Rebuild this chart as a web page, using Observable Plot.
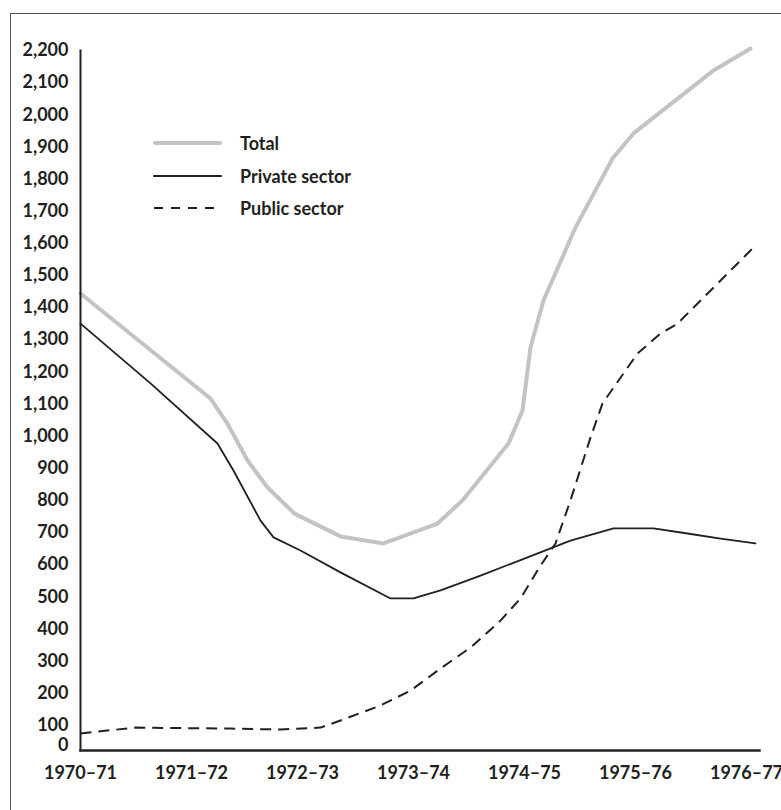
<!DOCTYPE html>
<html>
<head>
<meta charset="utf-8">
<script src="https://cdn.jsdelivr.net/npm/d3@7"></script>
<script src="https://cdn.jsdelivr.net/npm/@observablehq/plot@0.6"></script>
<style>
html,body{margin:0;padding:0;overflow:hidden;background:#fff;width:781px;height:810px}
#wrap{position:relative;width:781px;height:810px;overflow:hidden}
#border{position:absolute;left:10px;top:13px;width:800px;height:830px;border:1.5px solid #555;box-sizing:border-box;pointer-events:none}
#chart{position:absolute;left:0;top:0}
#legend{position:absolute;left:153px;top:127px;font-family:Lato,"Open Sans",sans-serif;font-weight:bold;font-size:18px;color:#231f20}
#legend .row{display:flex;align-items:center;height:32.5px}
#legend svg{margin-right:18px;display:block}
</style>
</head>
<body>
<div id="wrap">
  <div id="chart"></div>
  <div id="legend"></div>
  <div id="border"></div>
</div>
<script>
// Period labels (x = 0 is 1970–71, 1 is 1971–72, ...)
const periods = ["1970–71","1971–72","1972–73","1973–74","1974–75","1975–76","1976–77"];
const yTicks = [100,200,300,400,500,600,700,800,900,1000,1100,1200,1300,1400,1500,1600,1700,1800,1900,2000,2100,2200];

// Total
const totalX = [0,1.171,1.324,1.505,1.685,1.928,2.342,2.73,3.216,3.441,3.856,3.982,4.054,4.171,4.459,4.793,4.982,5.703,6.036];
const totalY = [1444,1117,1039,924,840,759,688,666,728,800,977,1080,1276,1422,1649,1864,1942,2138,2206];

// Private sector
const privateX = [0,0.631,1.234,1.378,1.622,1.739,1.982,2.342,2.793,3.0,3.243,3.604,4.414,4.802,5.162,5.468,5.766,6.081];
const privateY = [1350,1164,977,893,737,685,644,576,495,495,520,566,675,713,713,697,681,666];

// Public sector
const publicX = [0,0.495,1.351,1.802,2.162,2.342,2.703,2.973,3.243,3.514,3.784,3.964,4.144,4.279,4.414,4.595,4.703,4.802,4.892,5.018,5.225,5.378,5.586,6.063];
const publicY = [75,93,90,87,93,115,162,208,277,342,426,495,597,666,800,996,1102,1151,1195,1257,1319,1350,1422,1587];

const series = [
  {name:"Total", xs: totalX, ys: totalY, stroke:"#c3c3c3", width:4, dash:null},
  {name:"Private sector", xs: privateX, ys: privateY, stroke:"#231f20", width:1.8, dash:null},
  {name:"Public sector", xs: publicX, ys: publicY, stroke:"#231f20", width:2, dash:"11,7"}
];

const toRows = s => s.xs.map((x,i) => ({x, y: s.ys[i]}));

const font = 'Lato, "Open Sans", sans-serif';
const plot = Plot.plot({
  width: 781,
  height: 810,
  marginLeft: 80,
  marginRight: 22,
  marginTop: 50,
  marginBottom: 60,
  style: {fontFamily: font, fontSize: "18px", fontWeight: "bold", color: "#231f20", background: "transparent"},
  x: {domain: [0, 6], range: [80, 746]},
  y: {domain: [0, 2200], range: [757, 50]},
  marks: [
    ...series.map(s => Plot.line(toRows(s), {x:"x", y:"y", stroke: s.stroke, strokeWidth: s.width, strokeDasharray: s.dash, strokeLinejoin:"round", strokeLinecap: s.dash ? "butt" : "round"})),
    Plot.frame({anchor:"left", stroke:"#231f20", strokeWidth:2}),
    Plot.frame({anchor:"bottom", stroke:"#231f20", strokeWidth:2.5}),
    Plot.axisY({ticks: yTicks, tickSize: 0, tickPadding: 12, tickFormat: d3.format(","), label: null, fontWeight:"bold"}),
    Plot.text(["0"], {frameAnchor:"bottom-left", dx:-12, textAnchor:"end", fontWeight:"bold", fill:"#231f20"}),
    Plot.axisX({ticks: d3.range(periods.length), tickSize: 0, tickPadding: 16, tickFormat: i => periods[i], label: null, fontWeight:"bold"})
  ]
});
document.getElementById("chart").appendChild(plot);

// Legend
const legend = document.getElementById("legend");
series.forEach(s => {
  const row = document.createElement("div");
  row.className = "row";
  const dash = s.dash ? `stroke-dasharray="9,8"` : "";
  const cap = s.dash ? "butt" : "round";
  row.innerHTML = `<svg width="69" height="10"><line x1="${s.width/2}" y1="5" x2="${69 - s.width/2}" y2="5" stroke="${s.stroke}" stroke-width="${s.width}" stroke-linecap="${cap}" ${dash}/></svg><span>${s.name}</span>`;
  legend.appendChild(row);
});
</script>
</body>
</html>
